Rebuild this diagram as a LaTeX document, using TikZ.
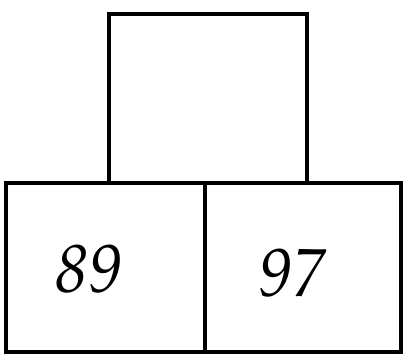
\documentclass[tikz,border=0pt]{standalone}

\tikzset{
    cell/.style={draw, line width=4pt, minimum height=169pt, inner sep=0pt},
    num/.style={font=\fontencoding{OT1}\fontfamily{ppl}\fontshape{it}\fontsize{68}{68}\selectfont, anchor=base, inner sep=0pt}
}

\begin{document}
\begin{tikzpicture}[x=1pt, y=-1pt]

    \useasboundingbox (0,0) rectangle (403,354);

    % Top box (empty)
    \node[cell, minimum width=198pt] (top) at (208, 98.5) {};

    % Bottom row
    \node[cell, minimum width=198.5pt] (left) at (105.25, 267.5) {};
    \node[cell, minimum width=196.5pt] (right) at (302.75, 267.5) {};

    % Numbers
    \node[num] (a) at (88, 292) {89};
    \node[num] (b) at (292, 296) {97};

\end{tikzpicture}
\end{document}
